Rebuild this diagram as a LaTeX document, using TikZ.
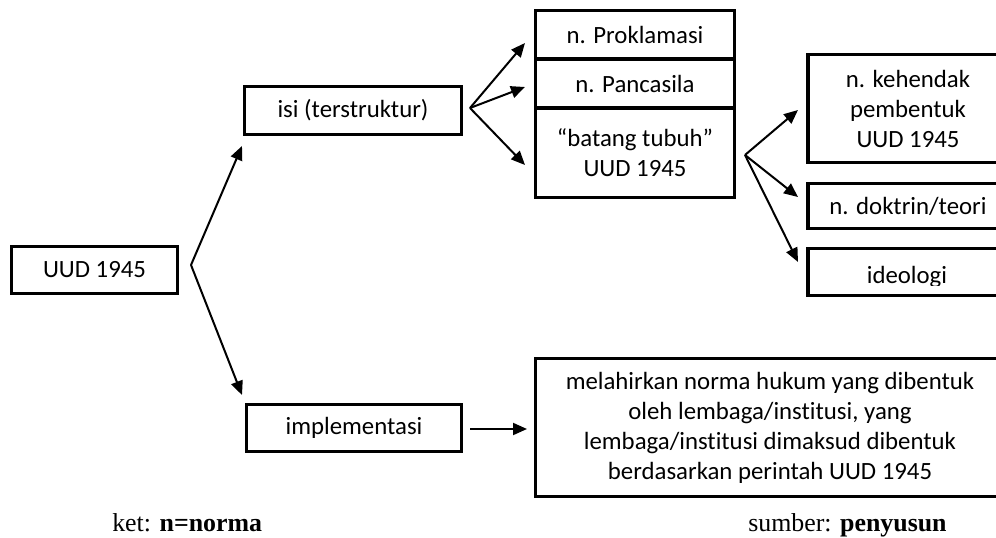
\documentclass[tikz,border=0pt]{standalone}
\usepackage{fontspec}
\setmainfont[RawFeature=-liga]{Carlito}
\newfontfamily\footfont{Liberation Serif}
\usetikzlibrary{arrows.meta}
\begin{document}
\begin{tikzpicture}[x=0.75pt,y=-0.75pt,
  box/.style={draw, line width=2.6pt, rectangle, inner sep=0pt, align=center,
    font=\fontsize{18.6}{22.5}\selectfont},
  arr/.style={line width=1.5pt, -{Triangle[length=10.5pt,width=9pt]}},
  foot/.style={anchor=base west, inner sep=0pt, font=\footfont\fontsize{19.4}{22}\selectfont}]
\clip (0,0) rectangle (996,538);
\fill[white] (0,0) rectangle (996,538);

% boxes
\node[box, minimum width=124.5pt, minimum height=35.25pt] (uud) at (94.5,270) {UUD 1945};
\node[box, minimum width=162.75pt, minimum height=36pt] (isi) at (353,110.5) {isi (terstruktur)};
\node[box, minimum width=161.25pt, minimum height=35.25pt] (impl) at (354,428) {implementasi};

\node[box, minimum width=149.25pt, minimum height=36.375pt] (prok) at (635,34.75) {n. Proklamasi};
\node[box, minimum width=149.25pt, minimum height=36.75pt] (panc) at (635,83.5) {n. Pancasila};
\node[box, minimum width=149.25pt, minimum height=67.125pt] (bat) at (635,152.75) {“batang tubuh”\\UUD 1945};

\node[box, minimum width=150pt, minimum height=81pt] (keh) at (908,108.5) {n. kehendak\\pembentuk\\UUD 1945};
\node[box, minimum width=150pt, minimum height=33.75pt] (dok) at (908,206) {n. doktrin/teori};
\node[box, minimum width=150pt, minimum height=35.25pt] (ide) at (908,272) {};
\begin{scope}
  \clip (800,250) rectangle (1000,285.5);
  \node[anchor=base, inner sep=0pt, font=\fontsize{18.6}{22.5}\selectfont] (idetext) at (907,283.3) {ideologi};
\end{scope}

\node[box, minimum width=351.75pt, minimum height=103.5pt] (big) at (770,427.5)
  {melahirkan norma hukum yang dibentuk\\oleh lembaga/institusi, yang\\lembaga/institusi dimaksud dibentuk\\berdasarkan perintah UUD 1945};

% fork points and arrow tips
\coordinate (f0) at (191,265);
\coordinate (f1) at (470,108);
\coordinate (f2) at (745,155);
\coordinate (tisi) at (242,146);
\coordinate (timpl) at (242,395);
\coordinate (tprok) at (525,43);
\coordinate (tpanc) at (525,87);
\coordinate (tbat) at (525,165);
\coordinate (tkeh) at (798,110);
\coordinate (tdok) at (798,197);
\coordinate (tide) at (798,262);
\coordinate (tbig) at (527,429);

\draw[arr] (f0) -- (tisi);
\draw[arr] (f0) -- (timpl);
\draw[arr] (f1) -- (tprok);
\draw[arr] (f1) -- (tpanc);
\draw[arr] (f1) -- (tbat);
\draw[arr] (f2) -- (tkeh);
\draw[arr] (f2) -- (tdok);
\draw[arr] (f2) -- (tide);
\draw[arr] ([xshift=5.25pt]impl.east |- tbig) -- (tbig);

% footer
\node[foot] (ket) at (112,531.5) {ket: \textbf{n=norma}};
\node[foot] (sumber) at (748,531.5) {sumber: \textbf{penyusun}};
\end{tikzpicture}
\end{document}
